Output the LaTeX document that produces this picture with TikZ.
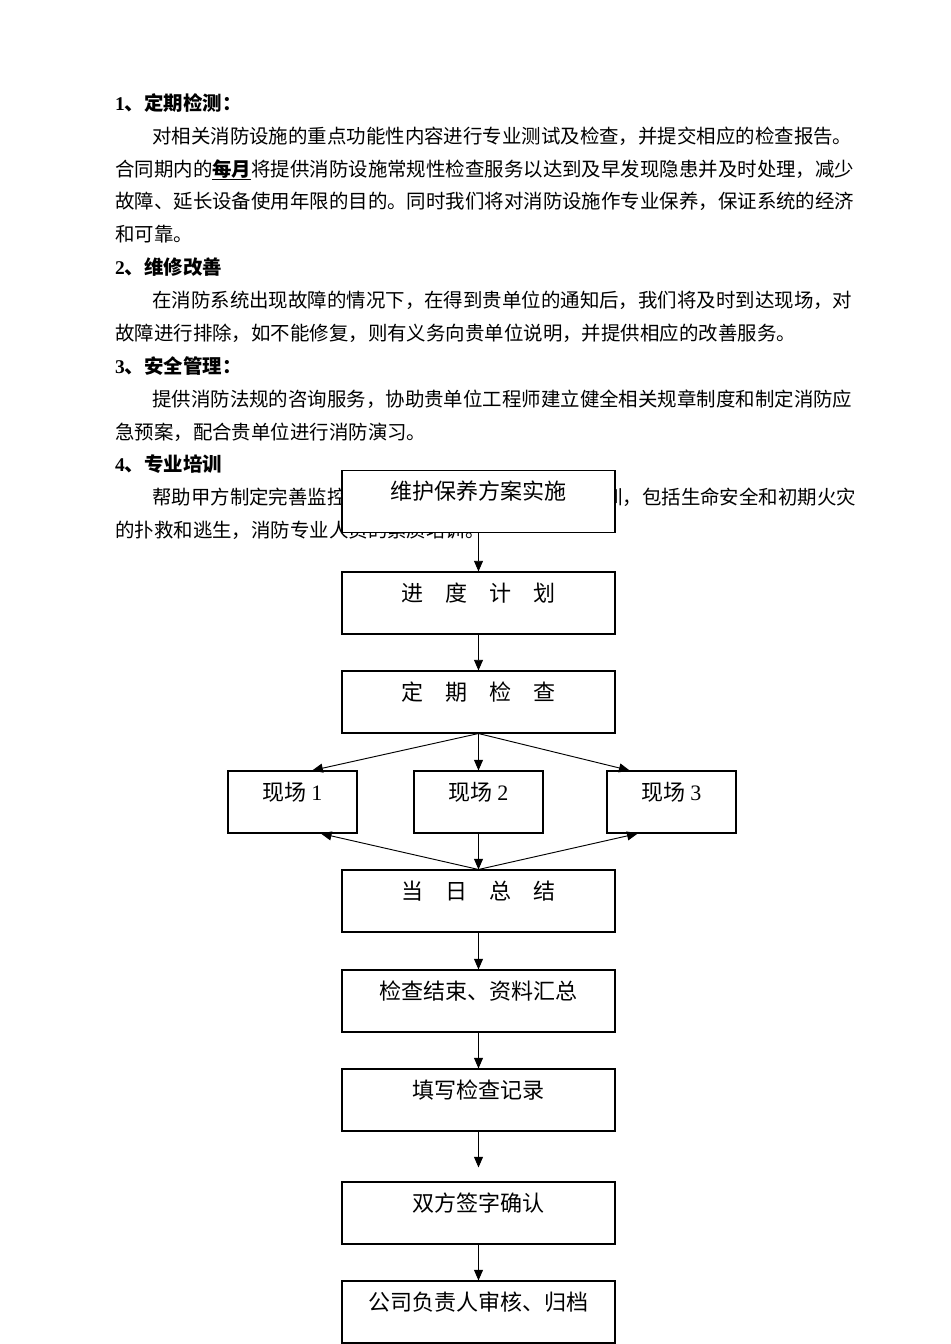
\documentclass[tikz,border=0pt]{standalone}
\usepackage{fontspec}
\usetikzlibrary{arrows.meta,positioning}
\setmainfont{Noto Sans CJK SC}
\newfontfamily\lat{Liberation Serif}

\tikzset{
  body/.style={anchor=base west, inner sep=0pt, font=\fontsize{16.6pt}{20pt}\selectfont},
  head/.style={body, font=\fontsize{16.6pt}{20pt}\selectfont\bfseries},
  flowbox/.style={draw, fill=white, line width=0.9pt, inner sep=0pt,
    minimum width=8.19cm, minimum height=1.86cm, text height=0.88cm, text depth=0.98cm,
    font=\fontsize{18.8pt}{22pt}\selectfont},
  sitebox/.style={flowbox, minimum width=3.87cm},
  arr/.style={line width=0.8pt, -{Triangle[length=0.32cm, width=0.27cm]}}
}

\begin{document}
\begin{tikzpicture}[x=0.03cm, y=-0.03cm]
      \useasboundingbox (0,0) rectangle (950,1344);
      % text of the page
      \node[head] (h1) at (115,110) {{\lat 1}、定期检测：};
      \node[body] (p1a) at (152,143) {对相关消防设施的重点功能性内容进行专业测试及检查，并提交相应的检查报告。};
      \node[body] (p1b) at (115,176) {合同期内的\underline{\bfseries 每月}将提供消防设施常规性检查服务以达到及早发现隐患并及时处理，减少};
      \node[body] (p1c) at (115,208) {故障、延长设备使用年限的目的。同时我们将对消防设施作专业保养，保证系统的经济};
      \node[body] (p1d) at (115,241) {和可靠。};
      \node[head] (h2) at (115,274) {{\lat 2}、维修改善};
      \node[body] (p2a) at (152,307) {在消防系统出现故障的情况下，在得到贵单位的通知后，我们将及时到达现场，对};
      \node[body] (p2b) at (115,340) {故障进行排除，如不能修复，则有义务向贵单位说明，并提供相应的改善服务。};
      \node[head] (h3) at (115,373) {{\lat 3}、安全管理：};
      \node[body] (p3a) at (152,406) {提供消防法规的咨询服务，协助贵单位工程师建立健全相关规章制度和制定消防应};
      \node[body] (p3b) at (115,439) {急预案，配合贵单位进行消防演习。};
      \node[head] (h4) at (115,471) {{\lat 4}、专业培训};
      \node[body] (p4a) at (152,504) {帮助甲方制定完善监控};
      \node[body] (p4r) at (603,504) {训，包括生命安全和初期火灾};
      \node[body] (p4b) at (115,537) {的扑救和逃生，消防专业人员的素质培训。};

      % flow chart
      \node[flowbox] (plan) at (478.5,501.5) {维护保养方案实施};
      \node[flowbox] (sched) at (478.5,603) {进\hspace{1em}度\hspace{1em}计\hspace{1em}划};
      \node[flowbox] (check) at (478.5,702) {定\hspace{1em}期\hspace{1em}检\hspace{1em}查};
      \node[sitebox] (site1) at (292.5,802) {现场 {\lat 1}};
      \node[sitebox] (site2) at (478.5,802) {现场 {\lat 2}};
      \node[sitebox] (site3) at (671.5,802) {现场 {\lat 3}};
      \node[flowbox] (daily) at (478.5,901) {当\hspace{1em}日\hspace{1em}总\hspace{1em}结};
      \node[flowbox] (collect) at (478.5,1001) {检查结束、资料汇总};
      \node[flowbox] (record) at (478.5,1100) {填写检查记录};
      \node[flowbox] (sign) at (478.5,1213) {双方签字确认};
      \node[flowbox] (archive) at (478.5,1312) {公司负责人审核、归档};

      \draw[arr] (plan.south) -- (sched.north);
      \draw[arr] (sched.south) -- (check.north);
      \draw[arr] (check.south) -- (site1.58);
      \draw[arr] (check.south) -- (site2.north);
      \draw[arr] (check.south) -- (site3.143);
      \draw[arr] (daily.north) -- (site1.-48);
      \draw[arr] (site2.south) -- (daily.north);
      \draw[arr] (daily.north) -- (site3.-137);
      \draw[arr] (daily.south) -- (collect.north);
      \draw[arr] (collect.south) -- (record.north);
      \draw[arr, shorten >=0.42cm] (record.south) -- (sign.north);
      \draw[arr] (sign.south) -- (archive.north);
\end{tikzpicture}
\end{document}
